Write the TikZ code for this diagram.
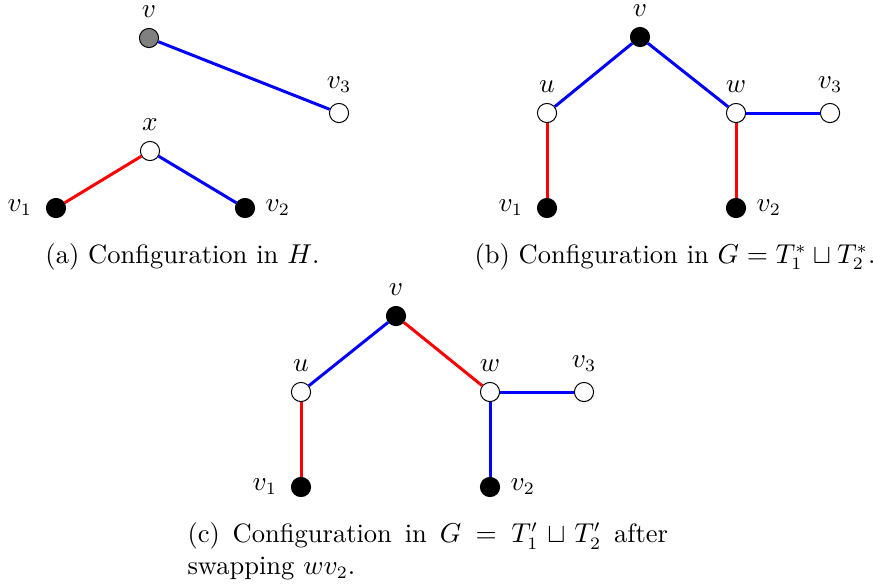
\documentclass[tikz,border=0pt]{standalone}
\usepackage{amsmath, amssymb}
\usetikzlibrary{positioning}

\begin{document}
\begin{tikzpicture}[
  x=0.4016pt, y=-0.4016pt,
  font=\fontsize{10.65pt}{12.7pt}\selectfont,
  vtx/.style  = {circle, draw=black, thin, minimum size=7.7pt, inner sep=0pt},
  wvtx/.style = {vtx, fill=white},
  bvtx/.style = {vtx, fill=black},
  gvtx/.style = {vtx, fill=gray},
  redge/.style= {red, line width=1.2pt},
  bedge/.style= {blue, line width=1.2pt},
  lab/.style  = {inner sep=0pt},
  captxt/.style = {inner sep=0pt, anchor=base west}
]
\useasboundingbox (0,0) rectangle (874,585);

%% ── (a) configuration in H ───────────────────────────────────────────────────
\node[gvtx] (av)  at (149, 38)  {};
\node[wvtx] (av3) at (339,113)  {};
\node[wvtx] (ax)  at (150,151)  {};
\node[bvtx] (av1) at ( 56,208)  {};
\node[bvtx] (av2) at (245,208)  {};

\draw[bedge] (av) -- (av3);
\draw[redge] (ax) -- (av1);
\draw[bedge] (ax) -- (av2);

\node[lab, above=4pt of av]    (lav)  {$v$};
\node[lab, above=4pt of av3]   (lav3) {$v_3$};
\node[lab, above=4pt of ax]    (lax)  {$x$};
\node[lab, left=5.4pt of av1]  (lav1) {$v_1$};
\node[lab, right=4pt of av2]   (lav2) {$v_2$};

\node[captxt] (capa) at (45,263) {(a) Configuration in $H$.};

%% ── (b) configuration in G = T1* u T2* ───────────────────────────────────────
\node[bvtx] (bv)  at (640, 37)  {};
\node[wvtx] (bu)  at (547,113)  {};
\node[wvtx] (bw)  at (736,113)  {};
\node[wvtx] (bv3) at (830,113)  {};
\node[bvtx] (bv1) at (547,208)  {};
\node[bvtx] (bv2) at (736,208)  {};

\draw[bedge] (bv) -- (bu);
\draw[bedge] (bv) -- (bw);
\draw[bedge] (bw) -- (bv3);
\draw[redge] (bu) -- (bv1);
\draw[redge] (bw) -- (bv2);

\node[lab, above=4pt of bv]    (lbv)  {$v$};
\node[lab, above=4pt of bu]    (lbu)  {$u$};
\node[lab, above=4pt of bw]    (lbw)  {$w$};
\node[lab, above=4pt of bv3]   (lbv3) {$v_3$};
\node[lab, left=5.4pt of bv1]  (lbv1) {$v_1$};
\node[lab, right=4pt of bv2]   (lbv2) {$v_2$};

\node[captxt] (capb) at (474,263) {(b) Configuration in $G = T_1^* \sqcup T_2^*$.};

%% ── (c) after swapping wv2 ───────────────────────────────────────────────────
\node[bvtx] (cv)  at (396,316)  {};
\node[wvtx] (cu)  at (301,392)  {};
\node[wvtx] (cw)  at (490,392)  {};
\node[wvtx] (cv3) at (584,392)  {};
\node[bvtx] (cv1) at (301,487)  {};
\node[bvtx] (cv2) at (490,487)  {};

\draw[bedge] (cv) -- (cu);
\draw[redge] (cv) -- (cw);
\draw[bedge] (cw) -- (cv3);
\draw[redge] (cu) -- (cv1);
\draw[bedge] (cw) -- (cv2);

\node[lab, above=4pt of cv]    (lcv)  {$v$};
\node[lab, above=4pt of cu]    (lcu)  {$u$};
\node[lab, above=4pt of cw]    (lcw)  {$w$};
\node[lab, above=4pt of cv3]   (lcv3) {$v_3$};
\node[lab, left=5.4pt of cv1]  (lcv1) {$v_1$};
\node[lab, right=4pt of cv2]   (lcv2) {$v_2$};

\node[inner sep=0pt, anchor=north west, text width=193pt, align=justify] (capc) at (187,522)
  {\hyphenpenalty=10000 (c) Configuration in $G = T_1' \sqcup T_2'$ after swapping $wv_2$.};

\end{tikzpicture}
\end{document}
